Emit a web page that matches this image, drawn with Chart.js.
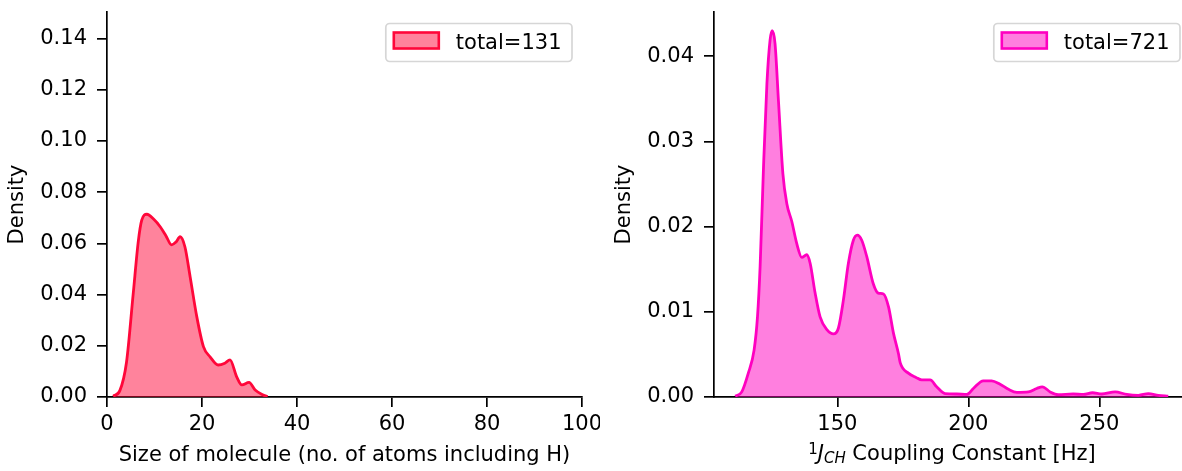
<!DOCTYPE html>
<html>
<head>
<meta charset="utf-8">
<script src="https://cdn.jsdelivr.net/npm/chart.js@4/dist/chart.umd.min.js"></script>
<style>
    html, body { margin: 0; padding: 0; background: #fff; overflow: hidden; }
    .grafico { position: absolute; top: 0; height: 471px; }
    #boxTamanho { left: 0; width: 600px; }
    #boxAcoplamento { left: 600px; width: 590px; }
</style>
</head>
<body>
<div class="grafico" id="boxTamanho"><canvas id="graficoTamanho" width="600" height="471"></canvas></div>
<div class="grafico" id="boxAcoplamento"><canvas id="graficoAcoplamento" width="590" height="471"></canvas></div>

<script>
/* DADOS - GRAFICO 1 (TAMANHO DA MOLECULA) */
const tamanhoX = [1.3, 2.7, 4.1, 5.5, 6.6, 7.3, 8.4, 9.8, 11.2, 12.4, 13.6, 14.5, 15.4, 16.4, 17.5,
    18.9, 20.3, 21.7, 23.4, 24.8, 25.9, 27.3, 28.4, 29.9, 31.2, 32.9, 33.8];
const tamanhoDensidade = [0.0003, 0.0025, 0.0135, 0.040, 0.061, 0.069, 0.0714, 0.0695, 0.0665, 0.063, 0.0594, 0.0605, 0.0626, 0.0587, 0.047,
    0.0314, 0.0197, 0.0157, 0.0125, 0.0132, 0.0145, 0.0079, 0.0047, 0.0057, 0.0027, 0.0008, 0.0001];
const ticksTamanhoX = [0, 20, 40, 60, 80, 100];
const ticksTamanhoY = [0, 0.02, 0.04, 0.06, 0.08, 0.10, 0.12, 0.14];
const totalTamanho = 131;

/* DADOS - GRAFICO 2 (ACOPLAMENTO 1J CH) */
const acoplamentoX = [111, 113.5, 116, 118.2, 119.5, 120.5, 121.8, 123.1, 124.3, 125.1, 126.2, 127.5, 129.2, 130.7,
    132.6, 134.5, 136.4, 138.3, 139.6, 141.5, 143.4, 146, 148.5, 150.4, 152.3, 154.2, 156.1, 157.6, 159.3,
    161.2, 163.7, 165.6, 167.6, 169.5, 171.4, 173.3, 174, 177.1, 180, 182.2, 185.4, 187.9, 191.1, 195.6,
    199.4, 201.9, 205.7, 208.9, 212.1, 215.3, 218.5, 222.9, 226.1, 228.2, 231.2, 234.3, 240, 243.9,
    247.4, 250.9, 256, 260.5, 264.9, 268.7, 272.5, 276.3];
const acoplamentoDensidade = [0.0001, 0.0006, 0.0028, 0.0055, 0.0094, 0.0153, 0.027, 0.0368, 0.0419, 0.0430, 0.0415, 0.0348, 0.0262, 0.0227,
    0.0206, 0.018, 0.0164, 0.0167, 0.0157, 0.0122, 0.0094, 0.0079, 0.0074, 0.0081, 0.0114, 0.0157, 0.0184, 0.0190, 0.0184,
    0.0165, 0.0133, 0.0122, 0.0121, 0.0106, 0.0075, 0.0051, 0.0040, 0.0028, 0.0023, 0.0020, 0.0020, 0.0012, 0.0004, 0.00035,
    0.0003, 0.0010, 0.0019, 0.0019, 0.0015, 0.0009, 0.00055, 0.0006, 0.0010, 0.0012, 0.0006, 0.00027, 0.00035, 0.0003,
    0.0005, 0.00035, 0.0006, 0.0003, 0.0002, 0.0004, 0.0002, 0.0001];
const ticksAcoplamentoX = [150, 200, 250];
const ticksAcoplamentoY = [0, 0.01, 0.02, 0.03, 0.04];
const totalAcoplamento = 721;


/* CONFIG PADRAO */
Chart.defaults.font.family = "'DejaVu Sans', sans-serif";
Chart.defaults.font.size = 21;
Chart.defaults.color = "#000";

function eixo(ticks, tamanho, formato, extra) {
    const horizontal = extra.position === "bottom";
    return Object.assign({
        type: "linear",
        afterBuildTicks: s => { s.ticks = ticks.map(v => ({ value: v })); },
        afterFit: s => {
            if (horizontal) s.height = tamanho; else s.width = tamanho;
            s.paddingLeft = 0; s.paddingRight = 0; s.paddingTop = 0; s.paddingBottom = 0;
        },
        border: { color: "#000", width: 1.7 },
        grid: { drawOnChartArea: false, drawTicks: true, tickLength: 10, color: "#000", lineWidth: 1.7 },
        ticks: { color: "#000", padding: horizontal ? 5 : 10, maxRotation: 0, autoSkip: false, callback: formato }
    }, extra);
}

/* LEGENDA DENTRO DO GRAFICO (canto superior direito) */
const legendaDentro = {
    id: "legendaDentro",
    afterDraw(chart) {
        const { ctx, chartArea } = chart;
        const ds = chart.data.datasets[0];
        ctx.save();
        ctx.font = "21px 'DejaVu Sans'";
        const larguraTexto = ctx.measureText(ds.label).width;
        const w = 8 + 45 + 17 + larguraTexto + 10.5;
        const h = 38;
        const x = chartArea.right - 10 - w;
        const y = chartArea.top + 11.5;
        ctx.beginPath();
        ctx.roundRect(x, y, w, h, 4);
        ctx.fillStyle = "rgba(255,255,255,0.8)";
        ctx.fill();
        ctx.lineWidth = 1.7;
        ctx.strokeStyle = "#d6d6d6";
        ctx.stroke();
        ctx.fillStyle = ds.backgroundColor;
        ctx.fillRect(x + 8, y + 9, 45, 16);
        ctx.lineWidth = 2.6;
        ctx.strokeStyle = ds.borderColor;
        ctx.strokeRect(x + 8, y + 9, 45, 16);
        ctx.fillStyle = "#000";
        ctx.textBaseline = "middle";
        ctx.fillText(ds.label, x + 8 + 45 + 17, y + h / 2 + 1);
        ctx.restore();
    }
};

/* TITULO DO EIXO X COM SOBRESCRITO E SUBSCRITO (1J CH) */
const rotuloJ = {
    id: "rotuloJ",
    afterDraw(chart, args, opts) {
        if (!opts.partes) return;
        const { ctx, chartArea } = chart;
        ctx.save();
        let total = 0;
        opts.partes.forEach(p => { ctx.font = p.fonte; total += ctx.measureText(p.texto).width; });
        let x = (chartArea.left + chartArea.right) / 2 - total / 2;
        ctx.fillStyle = "#000";
        ctx.textBaseline = "alphabetic";
        opts.partes.forEach(p => {
            ctx.font = p.fonte;
            ctx.fillText(p.texto, x, opts.base + p.dy);
            x += ctx.measureText(p.texto).width;
        });
        ctx.restore();
    }
};


/* GRAFICO 1 - TAMANHO DA MOLECULA */
new Chart(document.getElementById("graficoTamanho"), {
    type: "line",
    data: {
        datasets: [{
            label: "total=" + totalTamanho,
            data: tamanhoX.map((x, i) => ({ x: x, y: tamanhoDensidade[i] })),
            borderColor: "#ff073a",
            backgroundColor: "rgba(255,7,58,0.5)",
            borderWidth: 2.8,
            pointRadius: 0,
            fill: "origin",
            cubicInterpolationMode: "monotone"
        }]
    },
    options: {
        responsive: false,
        animation: false,
        layout: { padding: { top: 12, right: 18, bottom: 0, left: 0 } },
        plugins: { legend: { display: false }, tooltip: { enabled: false } },
        scales: {
            x: eixo(ticksTamanhoX, 74, v => String(v), {
                position: "bottom", min: 0, max: 100,
                title: { display: true, text: "Size of molecule (no. of atoms including H)", color: "#000", padding: { top: 0, bottom: 2.4 } }
            }),
            y: eixo(ticksTamanhoY, 107, v => v.toFixed(2), {
                position: "left", min: 0, max: 0.1504,
                title: { display: true, text: "Density", color: "#000", padding: { top: 5.4, bottom: 0 } }
            })
        }
    },
    plugins: [legendaDentro]
});


/* GRAFICO 2 - CONSTANTE DE ACOPLAMENTO */
new Chart(document.getElementById("graficoAcoplamento"), {
    type: "line",
    data: {
        datasets: [{
            label: "total=" + totalAcoplamento,
            data: acoplamentoX.map((x, i) => ({ x: x, y: acoplamentoDensidade[i] })),
            borderColor: "#ff00c0",
            backgroundColor: "rgba(255,0,192,0.5)",
            borderWidth: 2.8,
            pointRadius: 0,
            fill: "origin",
            cubicInterpolationMode: "monotone"
        }]
    },
    options: {
        responsive: false,
        animation: false,
        layout: { padding: { top: 12, right: 0, bottom: 0, left: 0 } },
        plugins: {
            legend: { display: false },
            tooltip: { enabled: false },
            rotuloJ: {
                base: 460,
                partes: [
                    { texto: "1", fonte: "15px 'DejaVu Sans'", dy: -6 },
                    { texto: "J", fonte: "italic 21px 'DejaVu Sans'", dy: 0 },
                    { texto: "CH", fonte: "italic 15px 'DejaVu Sans'", dy: 3 },
                    { texto: " Coupling Constant [Hz]", fonte: "21px 'DejaVu Sans'", dy: 0 }
                ]
            }
        },
        scales: {
            x: eixo(ticksAcoplamentoX, 74, v => String(v), {
                position: "bottom", min: 102.9, max: 284.6
            }),
            y: eixo(ticksAcoplamentoY, 114, v => v.toFixed(2), {
                position: "left", min: 0, max: 0.0452,
                title: { display: true, text: "Density", color: "#000", padding: { top: 12.4, bottom: 0 } }
            })
        }
    },
    plugins: [legendaDentro, rotuloJ]
});
</script>
</body>
</html>
